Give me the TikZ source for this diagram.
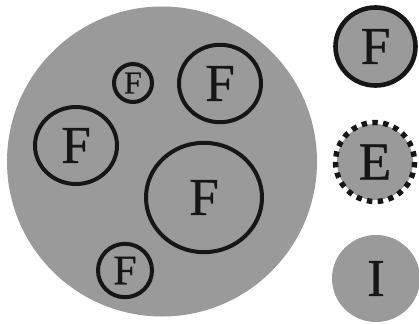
\documentclass[tikz,border=0pt]{standalone}
\usepackage{fontspec}
\setmainfont[FakeBold=0.7]{Liberation Serif}
\definecolor{cellgray}{RGB}{154,154,154}
\definecolor{ink}{RGB}{22,22,22}
\tikzset{
  ring/.style={draw=ink, line width=4pt},
  thickring/.style={draw=ink, line width=4.6pt},
  dotring/.style={draw=ink, line width=5.4pt, dash pattern=on 5.4pt off 5.39pt},
  lbl/.style={inner sep=0pt, text=ink},
  big/.style={lbl, font=\fontsize{53}{53}\selectfont},
  mid/.style={lbl, font=\fontsize{42}{42}\selectfont},
  tiny/.style={lbl, font=\fontsize{32}{32}\selectfont},
}
\begin{document}
\begin{tikzpicture}[x=1pt, y=-1pt]
\useasboundingbox (0,0) rectangle (419,323);
% large cell
\fill[cellgray] (162,161.5) circle [radius=155];
% labels
\node[tiny] (f1) at (133,83) {F};
\node[big]  (f2) at (220,83.5) {F};
\node[big]  (f3) at (76,145.5) {F};
\node[big]  (f4) at (204,197.5) {F};
\node[mid]  (f5) at (125,270.5) {F};
% rings inside the cell
\draw[ring] (f1) ellipse [x radius=19, y radius=19];
\draw[ring] (f2) ellipse [x radius=41, y radius=38.7];
\draw[ring] (f3) ellipse [x radius=41, y radius=38.5];
\draw[ring] (f4) ellipse [x radius=58, y radius=54.7];
\draw[ring] (f5) ellipse [x radius=27, y radius=26.7];
% legend column
\fill[cellgray] (375.5,46.5) ellipse [x radius=40, y radius=39];
\draw[thickring] (375.5,46.5) ellipse [x radius=40, y radius=39];
\node[big] (lf) at (375.5,46.5) {F};
\fill[cellgray] (375,162) circle [radius=38];
\draw[dotring] (375,162) circle [radius=39.5];
\node[big] (le) at (375,162) {E};
\fill[cellgray] (376,278.5) ellipse [x radius=44, y radius=43.5];
\node[big] (li) at (376,278.5) {I};
\end{tikzpicture}
\end{document}
